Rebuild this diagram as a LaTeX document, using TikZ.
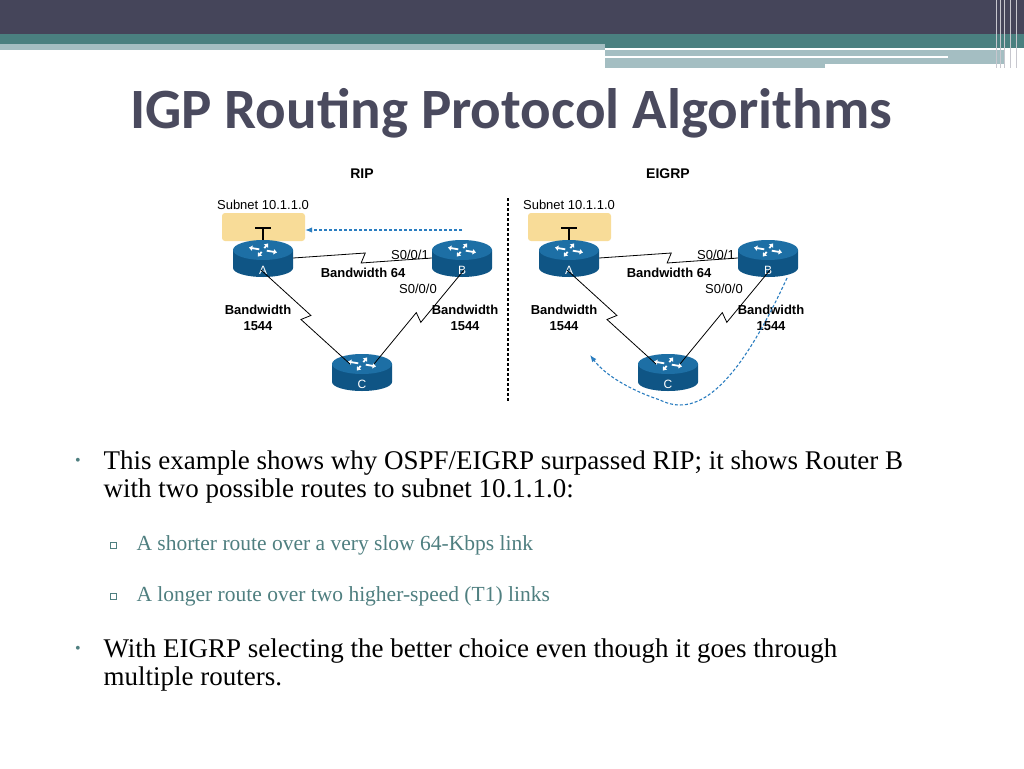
\documentclass[tikz,border=0pt]{standalone}
\usepackage{fontspec}
\setmainfont{Liberation Serif}
\newfontfamily\titlefont{Carlito}
\newfontfamily\netfont{Liberation Sans}
\usetikzlibrary{calc,arrows.meta}
\definecolor{barDark}{HTML}{45455A}
\definecolor{barTeal}{HTML}{4A8080}
\definecolor{barLight}{HTML}{A4BEC2}
\definecolor{titleGray}{HTML}{4A4A5E}
\definecolor{subTeal}{HTML}{4F7F80}
\definecolor{routerBlue}{HTML}{1D6FA5}
\definecolor{routerDark}{HTML}{0F5585}
\definecolor{subnetYellow}{HTML}{F8DC98}
\definecolor{pathBlue}{HTML}{2A7DC0}
\tikzset{
  netlabel/.style={font=\netfont\fontsize{13}{14}\selectfont},
  netbold/.style={font=\netfont\bfseries\fontsize{13}{16}\selectfont, align=center},
  serial/.style={to path={-- ($(\tikztostart)!.52!(\tikztotarget)!5pt!90:(\tikztotarget)$)
     -- ($(\tikztostart)!.49!(\tikztotarget)!5pt!-90:(\tikztotarget)$) -- (\tikztotarget)}},
  route/.style={pathBlue, densely dashed, line width=1.1pt, -{Latex[length=7pt]}},
  bullet/.style={font=\fontsize{27}{28}\selectfont, align=left, anchor=north west, text=black},
  subbullet/.style={font=\fontsize{21.5}{22}\selectfont, text=subTeal, anchor=west}
}
\newcommand{\router}[4]{%
  \node[minimum width=60, minimum height=38, inner sep=0] (#1) at (#2,#3) {};
  \fill[routerDark] (#2-30,#3-8) -- (#2-30,#3+10) arc[start angle=180,end angle=0,x radius=30,y radius=9] -- (#2+30,#3-8) -- cycle;
  \fill[routerBlue] (#2,#3-8) ellipse[x radius=30, y radius=10];
  \foreach \a in {20,110,200,290}{
    \draw[white, line width=1.8pt, -{Triangle[length=3.5pt,width=5pt]}] ($(#2,#3-8)+(\a:4 and 2)$) -- ($(#2,#3-8)+(\a:15 and 7)$);}
  \node[text=white, font=\netfont\fontsize{12}{12}\selectfont] at (#2,#3+12) {#4};}
\begin{document}
\begin{tikzpicture}[x=1pt, y=-1pt]
\useasboundingbox (0,0) rectangle (1024,768);
\fill[white] (0,0) rectangle (1024,768);
% header bars
\fill[barDark] (0,0) rectangle (1024,34);
\fill[barTeal] (0,34) rectangle (1024,48);
\fill[barLight] (0,44) rectangle (605,50);
\fill[barLight] (605,50) rectangle (1005,68);
\fill[white] (605,56) rectangle (948,58);
\fill[white] (825,64) rectangle (1005,68);
\foreach \x in {996,1000,1004,1010,1016}{\draw[white!70!barDark, line width=0.8pt] (\x,0) -- (\x,68);}
\node[font=\titlefont\bfseries\fontsize{57}{60}\selectfont, text=titleGray] (title) at (511,113) {IGP Routing Protocol Algorithms};
% diagram
\foreach \dx/\proto [count=\i] in {0/RIP, 306/EIGRP}{
  \node[netbold, font=\netfont\bfseries\fontsize{14}{15}\selectfont] (proto\i) at (362+\dx,174) {\proto};
  \fill[subnetYellow, rounded corners=3] (222+\dx,213) rectangle (305+\dx,241);
  \node[netlabel] (subnet\i) at (263+\dx,205) {Subnet 10.1.1.0};
  \draw[line width=1.6pt] (263+\dx,240) -- (263+\dx,228) (255+\dx,228) -- (271+\dx,228);
  \router{ra\i}{263+\dx}{258}{A}
  \router{rb\i}{462+\dx}{258}{B}
  \router{rc\i}{362+\dx}{372}{C}
  \draw[thick] (ra\i.east) to[serial] (rb\i.west);
  \draw[thick] ($(ra\i)+(-2,12)$) to[serial] ($(rc\i)+(-12,-8)$);
  \draw[thick] ($(rb\i)+(2,12)$) to[serial] ($(rc\i)+(12,-8)$);
  \node[netlabel] (sa\i) at (410+\dx,255) {S0/0/1};
  \node[netbold] (bw\i) at (363+\dx,273) {Bandwidth 64};
  \node[netlabel] (sb\i) at (418+\dx,289) {S0/0/0};
  \node[netbold] (bl\i) at (258+\dx,318) {Bandwidth\\1544};
  \node[netbold] (br\i) at (465+\dx,318) {Bandwidth\\1544};
}
\draw[densely dashed, line width=1.2pt] (508,198) -- (508,402);
\coordinate (ripstart) at (462,230);
\draw[route] (ripstart) -- (305,230);
\coordinate (eigstart) at (787,278);
\coordinate (eigend) at (590,355);
\draw[route] (eigstart) .. controls (740,380) and (700,420) .. (660,400) .. controls (630,390) and (605,375) .. (eigend);
% text
\node[bullet] (b1) at (100,447) {This example shows why OSPF/EIGRP surpassed RIP; it shows Router B\\with two possible routes to subnet 10.1.1.0:};
\node[text=subTeal, font=\fontsize{16}{16}\selectfont] at (78,462) {\textbullet};
\node[subbullet] (s1) at (133,545) {A shorter route over a very slow 64-Kbps link};
\node[subbullet] (s2) at (133,596) {A longer route over two higher-speed (T1) links};
\foreach \y in {545,596}{\draw[subTeal, line width=0.6pt] (110,\y-3) rectangle (116,\y+3);}
\node[bullet] (b2) at (100,635) {With EIGRP selecting the better choice even though it goes through\\multiple routers.};
\node[text=subTeal, font=\fontsize{16}{16}\selectfont] at (78,650) {\textbullet};
\end{tikzpicture}
\end{document}
